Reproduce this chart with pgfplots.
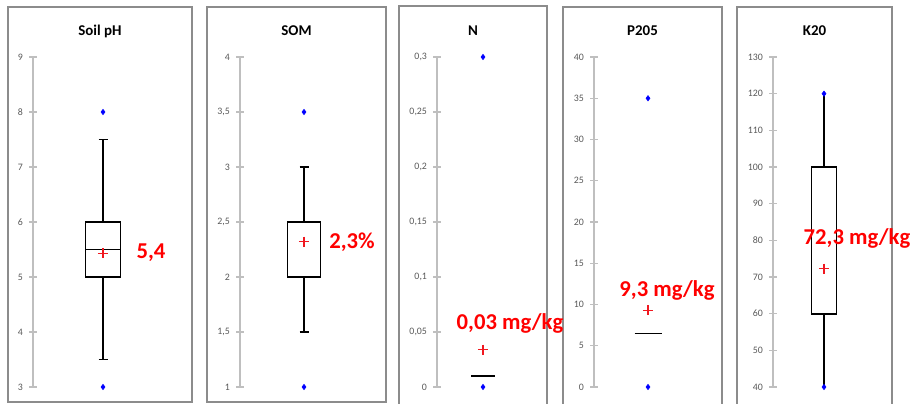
\documentclass[border=0pt]{standalone}
\usepackage{fontspec}
\setmainfont{Carlito}
\usepackage{pgfplots}
\pgfplotsset{compat=1.18}
\definecolor{axgray}{HTML}{BFBFBF}
\definecolor{lblgray}{HTML}{595959}
\definecolor{framegray}{HTML}{8C8C8C}
\definecolor{meanred}{HTML}{F01820}
\definecolor{lblred}{HTML}{FF0000}
\pgfplotsset{
  panel/.style={
    scale only axis, anchor=south west, height=247.5pt,
    axis x line=none, axis y line*=left,
    y axis line style={draw=axgray, line width=0.8pt},
    ytick style={draw=axgray, line width=0.8pt},
    tick align=center, major tick length=6pt,
    yticklabel style={font=\fontsize{7.4}{8}\selectfont, text=lblgray, xshift=-1pt},
    /pgf/number format/use comma,
    /pgf/number format/fixed,
    /pgf/number format/assume math mode=true,
    scaled y ticks=false, clip=false,
  },
  bx/.style={draw=black, line width=1.4pt, mark=none, line join=miter},
  mm/.style={only marks, mark=diamond*, mark size=2pt, color=blue, mark options={solid, fill=blue, draw=blue}},
  mn/.style={only marks, mark=+, mark size=3.8pt, color=meanred, mark options={solid, color=meanred, draw=meanred, line width=0.8pt}},
}
\begin{document}
\begin{tikzpicture}
\begin{scope}[x=0.75pt, y=0.75pt]
\useasboundingbox (0,0) rectangle (916,403);
% frames
\draw[framegray, line width=0.9pt] (8,1) rectangle (192,396);
\draw[framegray, line width=0.9pt] (207,1) rectangle (386,396);
\draw[framegray, line width=0.9pt] (399,-3) -- (399,397) -- (547,397) -- (547,-3);
\draw[framegray, line width=0.9pt] (563,-3) -- (563,396) -- (722,396) -- (722,-3);
\draw[framegray, line width=0.9pt] (737,-3) -- (737,396) -- (892,396) -- (892,-3);
% titles
\node[font=\fontsize{11.2}{13}\selectfont\bfseries] at (100,372) {Soil pH};
\node[font=\fontsize{11.2}{13}\selectfont\bfseries] at (296.5,372) {SOM};
\node[font=\fontsize{11.2}{13}\selectfont\bfseries] at (473,372) {N};
\node[font=\fontsize{11.2}{13}\selectfont\bfseries] at (642.5,372) {P205};
\node[font=\fontsize{11.2}{13}\selectfont\bfseries] at (814.5,372) {K20};
\end{scope}

% Panel 1: Soil pH (min 3, lower whisker 3.5, Q1 5, median 5.5, Q3 6, upper whisker 7.5, max 8, mean 5.43)
\begin{axis}[panel, at={(24.75pt,12pt)}, width=119.25pt, xmin=0, xmax=159, ymin=3, ymax=9, ytick={3,4,5,6,7,8,9}]
\addplot[bx] coordinates {(70,6) (70,7.5)};
\addplot[bx] coordinates {(65.5,7.5) (74.5,7.5)};
\addplot[bx] coordinates {(70,5) (70,3.5)};
\addplot[bx] coordinates {(65.5,3.5) (74.5,3.5)};
\addplot[bx, fill=white] coordinates {(52.5,5) (87.5,5) (87.5,6) (52.5,6)} -- cycle;
\addplot[bx] coordinates {(52.5,5.5) (87.5,5.5)};
\addplot[mm] coordinates {(70,8) (70,3)};
\addplot[mn] coordinates {(70,5.43)};
\end{axis}

% Panel 2: SOM
\begin{axis}[panel, at={(180pt,12pt)}, width=109.5pt, xmin=0, xmax=146, ymin=1, ymax=4, ytick={1,1.5,2,2.5,3,3.5,4}]
\addplot[bx] coordinates {(64,2.5) (64,3)};
\addplot[bx] coordinates {(59.5,3) (68.5,3)};
\addplot[bx] coordinates {(64,2) (64,1.5)};
\addplot[bx] coordinates {(59.5,1.5) (68.5,1.5)};
\addplot[bx, fill=white] coordinates {(47.5,2) (80.5,2) (80.5,2.5) (47.5,2.5)} -- cycle;
\addplot[mm] coordinates {(64,3.5) (64,1)};
\addplot[mn] coordinates {(64,2.32)};
\end{axis}

% Panel 3: N
\begin{axis}[panel, at={(327.75pt,12pt)}, width=82.5pt, xmin=0, xmax=110, ymin=0, ymax=0.3, ytick={0,0.05,0.1,0.15,0.2,0.25,0.3}]
\addplot[draw=black, line width=1.1pt, mark=none] coordinates {(34,0.01) (58,0.01)};
\addplot[mm] coordinates {(46,0.3) (46,0)};
\addplot[mn] coordinates {(46,0.034)};
\end{axis}

% Panel 4: P205
\begin{axis}[panel, at={(445.5pt,12pt)}, width=96pt, xmin=0, xmax=128, ymin=0, ymax=40, ytick={0,5,10,15,20,25,30,35,40}]
\addplot[draw=black, line width=1.1pt, mark=none] coordinates {(40.5,6.5) (67.5,6.5)};
\addplot[mm] coordinates {(54,35) (54,0)};
\addplot[mn] coordinates {(54,9.3)};
\end{axis}

% Panel 5: K20
\begin{axis}[panel, at={(579.75pt,12pt)}, width=89.25pt, xmin=0, xmax=119, ymin=40, ymax=130, ytick={40,50,...,130}]
\addplot[bx] coordinates {(51,100) (51,120)};
\addplot[bx] coordinates {(51,60) (51,40)};
\addplot[bx, fill=white] coordinates {(38.5,60) (63.5,60) (63.5,100) (38.5,100)} -- cycle;
\addplot[mm] coordinates {(51,120) (51,40)};
\addplot[mn] coordinates {(51,72.3)};
\end{axis}

% value labels
\begin{scope}[x=0.75pt, y=0.75pt]
\node[font=\fontsize{17}{19}\selectfont\bfseries, text=lblred] at (151,150) {5,4};
\node[font=\fontsize{17}{19}\selectfont\bfseries, text=lblred] at (352,161) {2,3\%};
\node[font=\fontsize{17}{19}\selectfont\bfseries, text=lblred] at (510,80) {0,03 mg/kg};
\node[font=\fontsize{17}{19}\selectfont\bfseries, text=lblred] at (667,113) {9,3 mg/kg};
\node[font=\fontsize{17}{19}\selectfont\bfseries, text=lblred] at (857,165) {72,3 mg/kg};
\end{scope}
\end{tikzpicture}
\end{document}
